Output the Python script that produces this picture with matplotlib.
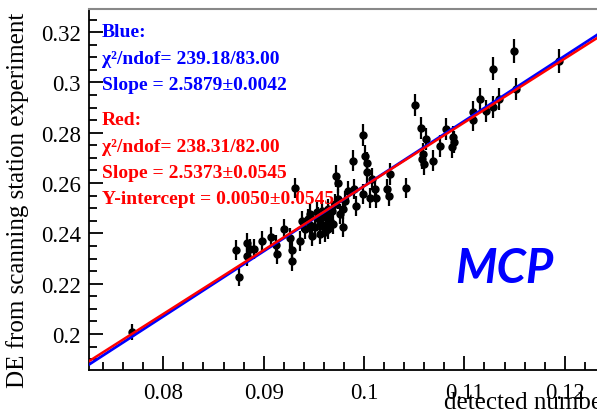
import numpy as np
import matplotlib
matplotlib.use("Agg")
import matplotlib.pyplot as plt
from matplotlib.ticker import MultipleLocator

# Measured points: detected number vs DE from scanning station experiment
det_number = [
    0.0769, 0.08721, 0.08751, 0.08831, 0.08831, 0.08861, 0.08900, 0.08980,
    0.09070, 0.09119, 0.09129, 0.09199, 0.09259, 0.09279, 0.09279, 0.09308,
    0.09358, 0.09378, 0.09438, 0.09478, 0.09527, 0.09557, 0.09587, 0.09617,
    0.09637, 0.09607, 0.09716, 0.09736, 0.09786, 0.09786, 0.09836, 0.09886,
    0.09896, 0.09915, 0.09985, 0.09985, 0.10005, 0.10025, 0.10025, 0.10055,
    0.10075, 0.10114, 0.10124, 0.10224, 0.10244, 0.10254, 0.10423, 0.10512,
    0.10572, 0.10622, 0.10592, 0.10582, 0.10602, 0.10692, 0.10761, 0.10821,
    0.10891, 0.10901, 0.10881, 0.11090, 0.11090, 0.11159, 0.11219, 0.11289,
    0.11289, 0.11348, 0.11498, 0.11518, 0.11945,
    0.09408, 0.09458, 0.09507, 0.09537, 0.09577, 0.09657, 0.09677, 0.09706,
    0.09736, 0.09756, 0.09557, 0.09637, 0.09687, 0.09806, 0.09458,
]
de_scan = [
    0.2008, 0.2334, 0.2227, 0.2362, 0.2310, 0.2338, 0.2338, 0.2370,
    0.2386, 0.2354, 0.2318, 0.2417, 0.2382, 0.2334, 0.2290, 0.2581,
    0.2370, 0.2449, 0.2457, 0.2390, 0.2485, 0.2449, 0.2429, 0.2465,
    0.2497, 0.2406, 0.2628, 0.2600, 0.2497, 0.2425, 0.2569, 0.2688,
    0.2577, 0.2509, 0.2791, 0.2557, 0.2708, 0.2680, 0.2644, 0.2541,
    0.2616, 0.2577, 0.2541, 0.2577, 0.2549, 0.2636, 0.2581, 0.2911,
    0.2819, 0.2775, 0.2716, 0.2696, 0.2676, 0.2688, 0.2748, 0.2815,
    0.2783, 0.2763, 0.2744, 0.2883, 0.2851, 0.2934, 0.2887, 0.3054,
    0.2903, 0.2934, 0.3125, 0.2974, 0.3085,
    0.2417, 0.2433, 0.2425, 0.2465, 0.2489, 0.2449, 0.2489, 0.2517,
    0.2537, 0.2477, 0.2398, 0.2417, 0.2437, 0.2529, 0.2477,
]
de_err = [
    0.0030, 0.0038, 0.0038, 0.0038, 0.0038, 0.0038, 0.0038, 0.0039,
    0.0039, 0.0039, 0.0039, 0.0040, 0.0039, 0.0039, 0.0039, 0.0041,
    0.0039, 0.0040, 0.0040, 0.0040, 0.0040, 0.0040, 0.0040, 0.0040,
    0.0040, 0.0040, 0.0042, 0.0041, 0.0040, 0.0040, 0.0041, 0.0042,
    0.0041, 0.0041, 0.0043, 0.0041, 0.0042, 0.0042, 0.0042, 0.0041,
    0.0042, 0.0041, 0.0041, 0.0041, 0.0041, 0.0042, 0.0041, 0.0045,
    0.0043, 0.0043, 0.0042, 0.0042, 0.0042, 0.0042, 0.0043, 0.0043,
    0.0043, 0.0043, 0.0043, 0.0044, 0.0044, 0.0045, 0.0044, 0.0046,
    0.0045, 0.0045, 0.0047, 0.0045, 0.0046,
    0.0040, 0.0040, 0.0040, 0.0040, 0.0040, 0.0040, 0.0040, 0.0040,
    0.0040, 0.0040, 0.0040, 0.0040, 0.0040, 0.0041, 0.0040,
]

# Fit results
blue_slope = 2.5879
red_slope, red_icpt = 2.5373, 0.0050

blue_lines = ["Blue:", "\u03c7\u00b2/ndof= 239.18/83.00", "Slope = 2.5879\u00b10.0042"]
red_lines = ["Red:", "\u03c7\u00b2/ndof= 238.31/82.00", "Slope = 2.5373\u00b10.0545",
             "Y-intercept = 0.0050\u00b10.0545"]

x_range = (0.07262, 0.1250)
y_range = (0.1858, 0.3292)

serif = "Liberation Serif"
serif_list = ["Liberation Serif", "DejaVu Serif"]

fig = plt.figure(figsize=(5.97, 4.14), dpi=100)
W, H = 597, 414
ax = fig.add_axes([89.3 / W, 43.3 / H, 1.03 - 89.3 / W, (370.7 - 10) / H])
ax.set_xlim(*x_range)
ax.set_ylim(*y_range)

ax.errorbar(det_number, de_scan, yerr=de_err, fmt="o", color="black",
            ms=5, elinewidth=1.6, capsize=0, zorder=3)

xs = np.linspace(x_range[0], x_range[1], 200)
ax.plot(xs, blue_slope * xs, color="#0000ff", lw=2.0, zorder=4)
ax.plot(xs, red_slope * xs + red_icpt, color="#ff0000", lw=1.8, zorder=5)

# Axis frame and ticks
ax.spines["right"].set_visible(False)
ax.spines["top"].set_color("#888888")
ax.spines["top"].set_linewidth(1.5)
for side in ("left", "bottom"):
    ax.spines[side].set_linewidth(1.3)

ax.xaxis.set_major_locator(MultipleLocator(0.01))
ax.xaxis.set_minor_locator(MultipleLocator(0.002))
ax.yaxis.set_major_locator(MultipleLocator(0.02))
ax.yaxis.set_minor_locator(MultipleLocator(0.005))
ax.xaxis.set_major_formatter(matplotlib.ticker.FuncFormatter(lambda v, p: f"{v:g}"))
ax.yaxis.set_major_formatter(matplotlib.ticker.FuncFormatter(lambda v, p: f"{v:g}"))
ax.tick_params(which="both", direction="in", top=False, right=False, width=1.3)
ax.tick_params(which="major", length=10)
ax.tick_params(which="minor", length=5.5)
ax.tick_params(axis="y", which="major", pad=6)
ax.tick_params(axis="x", which="major", pad=9)
for lab in ax.get_xticklabels() + ax.get_yticklabels():
    lab.set_fontfamily(serif)
    lab.set_fontsize(16.5)

fig.text(18 / W, 1 - 200 / H, "DE from scanning station experiment",
         rotation=90, ha="center", va="center", family=serif, fontsize=18)
fig.text(444 / W, 1 - 409 / H, "detected number", ha="left", va="baseline",
         family=serif, fontsize=18)

# Fit summary text
for txt, base in zip(blue_lines, [37, 63.5, 90]):
    fig.text(102 / W, 1 - base / H, txt, color="#0000ff", family=serif_list,
             fontweight="bold", fontsize=14, va="baseline", zorder=10)
for txt, base in zip(red_lines, [125, 151.5, 178, 204]):
    fig.text(102 / W, 1 - base / H, txt, color="#ff0000", family=serif_list,
             fontweight="bold", fontsize=14, va="baseline", zorder=10)

fig.text(504 / W, 1 - 283 / H, "MCP", color="#0000ff", family="Lato",
         fontweight="bold", fontstyle="italic", fontsize=34, ha="center",
         va="baseline")

fig.savefig("out.png", dpi=100)
